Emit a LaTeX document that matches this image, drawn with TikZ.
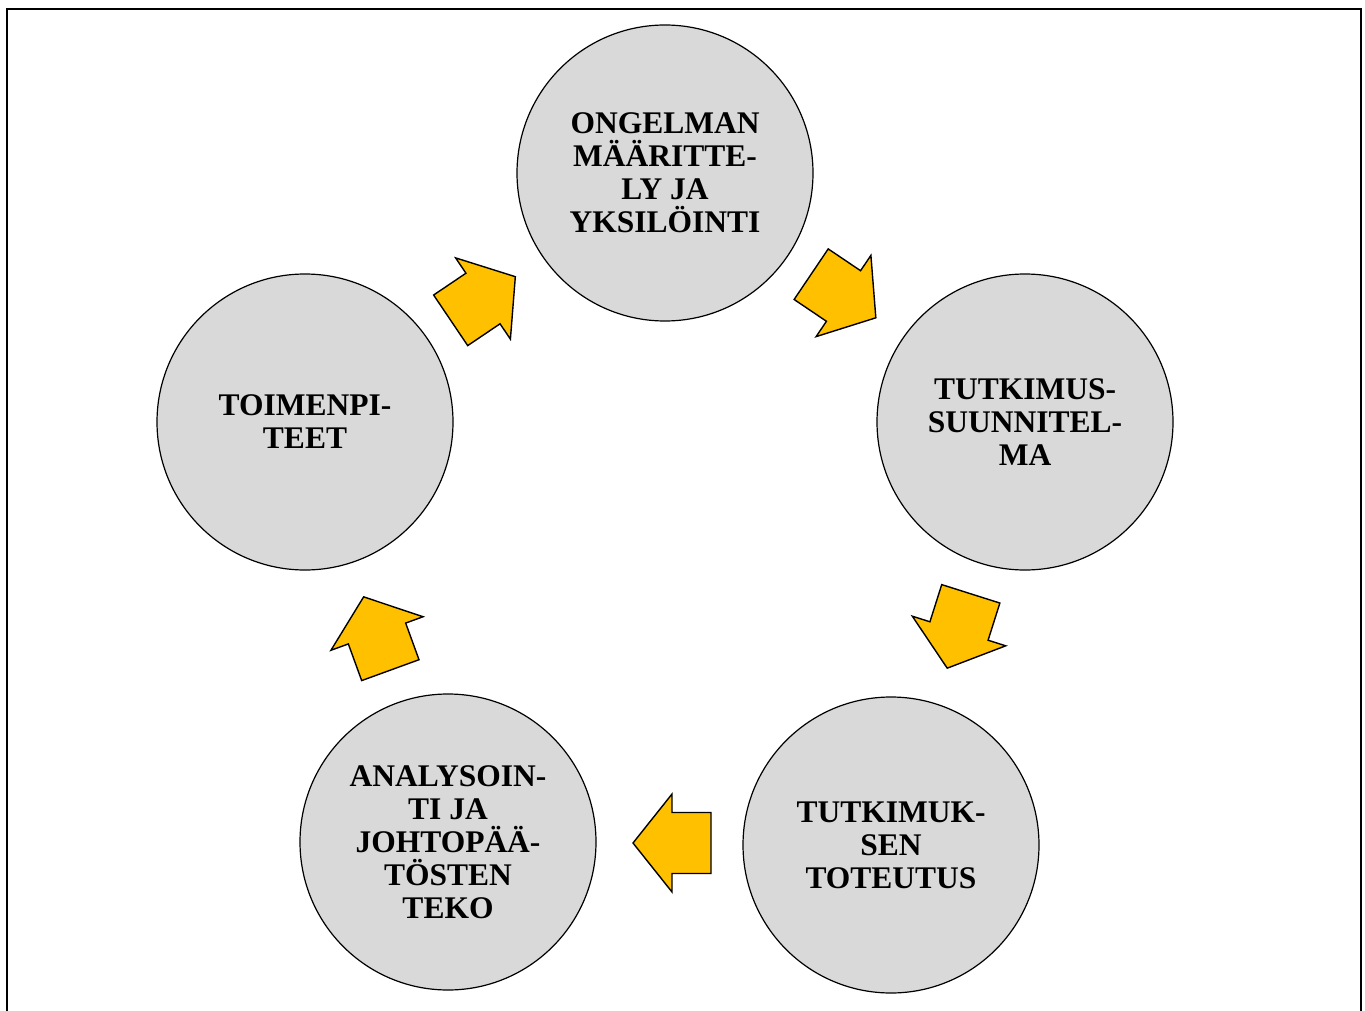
\documentclass[tikz,border=0pt]{standalone}
\usepackage{fontspec}
\setmainfont{Liberation Serif}
\begin{document}
\begin{tikzpicture}[x=1pt,y=-1pt,
  stage/.style={circle, draw=black, line width=1.2pt, fill=stagegray,
    minimum size=296pt, inner sep=0pt, align=center,
    font=\fontsize{31.5}{33}\selectfont\bfseries},
  arrowfill/.style={draw=black, line width=1.4pt, fill=arrowgold, line join=miter},
  blockarrow/.pic={\path[arrowfill] (-39,-30.5) -- (0,-30.5) -- (0,-49) -- (39,0)
      -- (0,49) -- (0,30.5) -- (-39,30.5) -- cycle;}]
\definecolor{stagegray}{HTML}{D9D9D9}
\definecolor{arrowgold}{HTML}{FFC000}
\useasboundingbox (0,0) rectangle (1365,1011);
% frame (open at the bottom)
\coordinate (fbl) at (7,1011);
\coordinate (ftl) at (7,9);
\coordinate (ftr) at (1361,9);
\coordinate (fbr) at (1361,1011);
\draw[line width=2.4pt] (fbl) -- (ftl) -- (ftr) -- (fbr);
% stages
\node[stage] (s1) at (665,173) {ONGELMAN\\MÄÄRITTE-\\LY JA\\YKSILÖINTI};
\node[stage] (s2) at (1025,422) {TUTKIMUS-\\SUUNNITEL-\\MA};
\node[stage] (s3) at (891,845) {TUTKIMUK-\\SEN\\TOTEUTUS};
\node[stage] (s4) at (448,842) {ANALYSOIN-\\TI JA\\JOHTOPÄÄ-\\TÖSTEN\\TEKO};
\node[stage] (s5) at (305,422) {TOIMENPI-\\TEET};
% arrows
\pic[shift={(843.5,296)}, rotate=-34] {blockarrow};
\pic[shift={(959,631)}, rotate=-107.6] {blockarrow};
\pic[shift={(672,843)}, rotate=180] {blockarrow};
\pic[shift={(377,633.5)}, rotate=110] {blockarrow};
\pic[shift={(483,298.5)}, rotate=34] {blockarrow};
\end{tikzpicture}
\end{document}
